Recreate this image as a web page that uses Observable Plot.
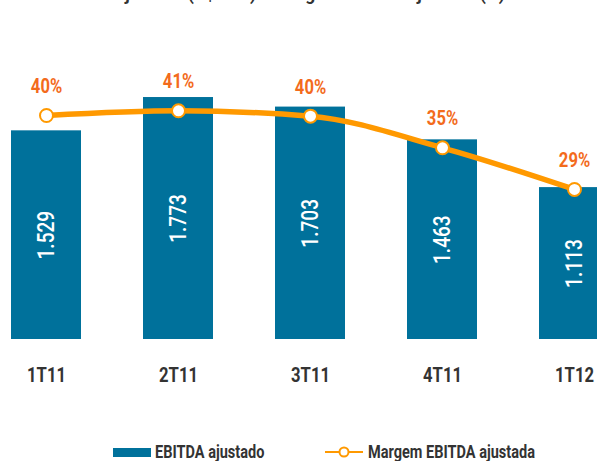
<!DOCTYPE html>
<html>
<head>
<meta charset="utf-8">
<script src="https://cdn.jsdelivr.net/npm/d3@7"></script>
<script src="https://cdn.jsdelivr.net/npm/@observablehq/plot@0.6"></script>
<style>
  html, body { margin: 0; padding: 0; background: #fff; }
  #wrap { position: relative; width: 597px; height: 461px; overflow: hidden; font-family: Roboto, sans-serif; }
  #title { position: absolute; left: 0; top: 0; }
  .layer { position: absolute; left: 0; top: 0; }
  #legend { position: absolute; left: 0; top: 443px; width: 597px; height: 18px; font-size: 17.5px;
            font-weight: bold; color: #333; }
  .lg { position: absolute; top: 0; display: flex; align-items: center; height: 18px; white-space: nowrap; }
  .cond { display: inline-block; transform: scaleX(0.83); transform-origin: left center; }
</style>
</head>
<body>
<div id="wrap">
  <svg id="title" width="597" height="12"><text x="52" y="-0.5" font-family="Roboto, sans-serif" font-size="19" font-weight="bold" fill="#333" textLength="453" lengthAdjust="spacingAndGlyphs">EBITDA ajustado (R$ MM) e Margem EBITDA ajustado (%)</text></svg>
  <div id="bars" class="layer"></div>
  <div id="lines" class="layer"></div>
  <div id="legend"></div>
</div>
<script>
const categories = ["1T11", "2T11", "3T11", "4T11", "1T12"];
const ebitda = [1529, 1773, 1703, 1463, 1113];
const ebitdaLabels = ["1.529", "1.773", "1.703", "1.463", "1.113"];
const margin = [40.0, 40.7, 39.9, 35.2, 29.0];
const marginLabels = ["40%", "41%", "40%", "35%", "29%"];
const seriesNames = ["EBITDA ajustado", "Margem EBITDA ajustada"];

const BLUE = "#00719B";
const LINE = "#FF9900";
const LABEL = "#F36B1C";
const FONT = "Roboto, sans-serif";

const barData = categories.map((c, i) => ({cat: c, v: ebitda[i], label: ebitdaLabels[i]}));
const lineData = categories.map((c, i) => ({cat: c, m: margin[i], label: marginLabels[i]}));

const W = 597, H = 400;

function condense(svg, ratio) {
  svg.querySelectorAll("text").forEach(t => {
    const L = t.getComputedTextLength();
    if (L > 0) {
      t.setAttribute("textLength", (L * ratio).toFixed(1));
      t.setAttribute("lengthAdjust", "spacingAndGlyphs");
    }
  });
}

const bars = Plot.plot({
  width: W, height: H,
  marginTop: 0, marginBottom: 61, marginLeft: 0, marginRight: 0,
  style: {fontFamily: FONT, background: "transparent", overflow: "visible"},
  x: {type: "band", domain: categories, range: [11, 609], paddingInner: 0.47, paddingOuter: 0, align: 0},
  y: {domain: [0, 2484], axis: null},
  marks: [
    Plot.barY(barData, {x: "cat", y: "v", fill: BLUE}),
    Plot.text(barData, {x: "cat", y: d => d.v / 2, text: "label", rotate: -90, fill: "white",
      fontSize: 23, fontWeight: 500, fontFamily: FONT}),
    Plot.axisX({tickSize: 0, tickPadding: 28, fontSize: 20, fontWeight: "bold", fill: "#333", label: null})
  ]
});
document.getElementById("bars").appendChild(bars);
condense(bars, 0.83);

const lines = Plot.plot({
  width: W, height: H,
  marginTop: 0, marginBottom: 0, marginLeft: 0, marginRight: 0,
  style: {fontFamily: FONT, background: "transparent", overflow: "visible"},
  x: {type: "point", domain: categories, range: [46, 574], padding: 0, axis: null},
  y: {domain: [0, 57.1], range: [384, 0], axis: null},
  marks: [
    Plot.line(lineData, {x: "cat", y: "m", stroke: LINE, strokeWidth: 5.5, curve: "monotone-x"}),
    Plot.dot(lineData, {x: "cat", y: "m", r: 6.5, fill: "white", stroke: LINE, strokeWidth: 2}),
    Plot.text(lineData, {x: "cat", y: "m", text: "label", dy: -29, fill: LABEL, fontSize: 20,
      fontWeight: "bold", fontFamily: FONT})
  ]
});
document.getElementById("lines").appendChild(lines);
condense(lines, 0.83);

const legend = document.getElementById("legend");
legend.innerHTML = `
  <div class="lg" style="left:113px"><span style="display:inline-block;width:38px;height:9px;background:${BLUE};margin-right:4px"></span><span class="cond">${seriesNames[0]}</span></div>
  <div class="lg" style="left:325px"><svg width="40" height="12" style="margin-right:3px"><line x1="0" y1="6" x2="38" y2="6" stroke="${LINE}" stroke-width="2"/><circle cx="19" cy="6" r="4.5" fill="white" stroke="${LINE}" stroke-width="2"/></svg><span class="cond">${seriesNames[1]}</span></div>
`;
</script>
</body>
</html>
